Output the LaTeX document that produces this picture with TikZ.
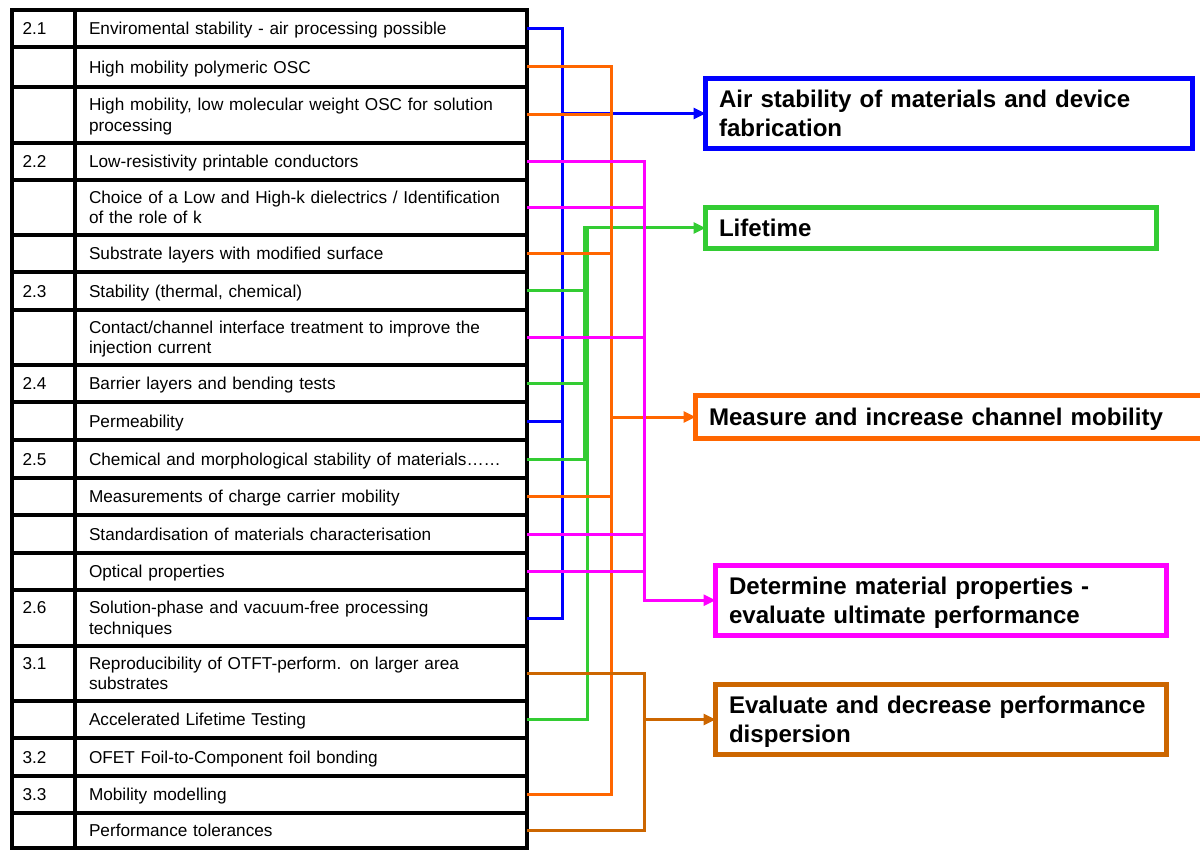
\documentclass[tikz,border=0pt]{standalone}
\usepackage{fontspec}
\setmainfont{Liberation Sans}
\usetikzlibrary{arrows.meta}

\definecolor{lnblue}{HTML}{0000FF}
\definecolor{lnorange}{HTML}{FF6600}
\definecolor{lnmagenta}{HTML}{FF00FF}
\definecolor{lngreen}{HTML}{33CC33}
\definecolor{lnbrown}{HTML}{CC6600}

\newcommand\rowfont{\fontsize{17.2}{20.5}\selectfont}
\newcommand\goalfont{\fontsize{24.1}{29.3}\selectfont\bfseries}
% two lines whose baseline is the first one
\newcommand\twolines[2]{\begin{tabular}[t]{@{}l@{}}#1\\#2\end{tabular}}

\tikzset{
  tabline/.style={line width=4.5pt, draw=black},
  rowcell/.style={rectangle, inner xsep=14pt, inner ysep=0pt, outer sep=0pt,
    minimum width=452pt, text width=424pt, align=left, font=\rowfont,
    text height=12.3pt, text depth=0pt},
  rowcell2/.style={rowcell, text depth=20.5pt},
  numtext/.style={inner sep=0pt, outer sep=0pt, anchor=base west, font=\rowfont},
  goalbox/.style={rectangle, line width=5pt, inner xsep=13.5pt, inner ysep=0pt,
    outer sep=0pt, align=left, font=\goalfont, text height=17.3pt, text depth=0pt},
  goalbox2/.style={goalbox, text depth=29.3pt},
  connector/.style={line width=3pt, line join=miter},
  conarrow/.style={connector, -{Triangle[length=12pt,width=11pt]}},
}

\begin{document}
\begin{tikzpicture}[x=1pt, y=-1pt]
\useasboundingbox (0,0) rectangle (1200,850);
\clip (0,0) rectangle (1200,850);

% ---- table rows (text column) ----
\node[rowcell,  minimum height=37pt] (r1)  at (301,28.5)  {Enviromental stability - air processing possible};
\node[rowcell,  minimum height=40pt] (r2)  at (301,67)    {High mobility polymeric OSC};
\node[rowcell2, minimum height=56pt] (r3)  at (301,115)   {\twolines{High mobility, low molecular weight OSC for solution}{processing}};
\node[rowcell,  minimum height=37pt] (r4)  at (301,161.5) {Low-resistivity printable conductors};
\node[rowcell2, minimum height=55pt] (r5)  at (301,207.5) {\twolines{Choice of a Low and High-k dielectrics / Identification}{of the role of k}};
\node[rowcell,  minimum height=37pt] (r6)  at (301,253.5) {Substrate layers with modified surface};
\node[rowcell,  minimum height=38pt] (r7)  at (301,291)   {Stability (thermal, chemical)};
\node[rowcell2, minimum height=55pt] (r8)  at (301,337.5) {\twolines{Contact/channel interface treatment to improve the}{injection current}};
\node[rowcell,  minimum height=37pt] (r9)  at (301,383.5) {Barrier layers and bending tests};
\node[rowcell,  minimum height=38pt] (r10) at (301,421)   {Permeability};
\node[rowcell,  minimum height=38pt] (r11) at (301,459)   {Chemical and morphological stability of materials……};
\node[rowcell,  minimum height=37pt] (r12) at (301,496.5) {Measurements of charge carrier mobility};
\node[rowcell,  minimum height=38pt] (r13) at (301,534)   {Standardisation of materials characterisation};
\node[rowcell,  minimum height=37pt] (r14) at (301,571.5) {Optical properties};
\node[rowcell2, minimum height=56pt] (r15) at (301,618)   {\twolines{Solution-phase and vacuum-free processing}{techniques}};
\node[rowcell2, minimum height=55pt] (r16) at (301,673.5) {\twolines{Reproducibility of OTFT-perform. on larger area}{substrates}};
\node[rowcell,  minimum height=37pt] (r17) at (301,719.5) {Accelerated Lifetime Testing};
\node[rowcell,  minimum height=38pt] (r18) at (301,757)   {OFET Foil-to-Component foil bonding};
\node[rowcell,  minimum height=37pt] (r19) at (301,794.5) {Mobility modelling};
\node[rowcell,  minimum height=35pt] (r20) at (301,830.5) {Performance tolerances};

% ---- section numbers ----
\coordinate (numx) at (22.5,0);
\node[numtext] (n1)  at (numx |- r1.base)  {2.1};
\node[numtext] (n4)  at (numx |- r4.base)  {2.2};
\node[numtext] (n7)  at (numx |- r7.base)  {2.3};
\node[numtext] (n9)  at (numx |- r9.base)  {2.4};
\node[numtext] (n11) at (numx |- r11.base) {2.5};
\node[numtext] (n15) at (numx |- r15.base) {2.6};
\node[numtext] (n16) at (numx |- r16.base) {3.1};
\node[numtext] (n18) at (numx |- r18.base) {3.2};
\node[numtext] (n19) at (numx |- r19.base) {3.3};

% ---- table grid ----
\coordinate (tabL) at (12,0);
\foreach \i in {1,...,19} \draw[tabline] (tabL |- r\i.south) -- (r\i.south east);
\draw[tabline] (r1.north west) -- (r20.south west);
\draw[tabline] (tabL |- r1.north) rectangle (r20.south east);

% ---- goal boxes ----
\node[goalbox2, draw=lnblue, minimum width=487pt, minimum height=70pt, text width=460pt]
  (airbox) at (949,113.5) {\twolines{Air stability of materials and device}{fabrication}};
\node[goalbox, draw=lngreen, minimum width=451pt, minimum height=41pt, text width=424pt]
  (lifebox) at (931,228) {Lifetime};
\node[goalbox, draw=lnorange, minimum width=519.5pt, minimum height=43pt, text width=492.5pt]
  (mobbox) at (955.25,417) {Measure and increase channel mobility};
\node[goalbox2, draw=lnmagenta, minimum width=451pt, minimum height=70.5pt, text width=424pt]
  (detbox) at (941,600.25) {\twolines{Determine material properties -}{evaluate ultimate performance}};
\node[goalbox2, draw=lnbrown, minimum width=451pt, minimum height=70pt, text width=424pt]
  (evalbox) at (941,719.5) {\twolines{Evaluate and decrease performance}{dispersion}};

% ---- bus lines ----
\coordinate (busB)  at (562,0);
\coordinate (busGa) at (584,0);
\coordinate (busGb) at (587.5,0);
\coordinate (busO)  at (611,0);
\coordinate (busM)  at (644,0);
\coordinate (busR)  at (644,0);

% blue: air stability
\draw[connector, color=lnblue] (r1.east) -| (busB |- r15.east) -- (r15.east);
\draw[connector, color=lnblue] (r10.east) -- (busB |- r10.east);
\draw[conarrow, color=lnblue] (busB |- airbox.west) -- (airbox.west);

% green: lifetime
\draw[conarrow, color=lngreen] (r11.east) -| (busGa |- lifebox.west) -- (lifebox.west);
\draw[connector, color=lngreen] (r17.east) -| (busGb |- lifebox.west);
\draw[connector, color=lngreen] (r7.east) -- (busGa |- r7.east);
\draw[connector, color=lngreen] (r9.east) -- (busGa |- r9.east);

% orange: channel mobility
\draw[connector, color=lnorange] (r2.east) -| (busO |- r19.east) -- (r19.east);
\draw[connector, color=lnorange] (r3.east) -- (busO |- r3.east);
\draw[connector, color=lnorange] (r6.east) -- (busO |- r6.east);
\draw[connector, color=lnorange] (r12.east) -- (busO |- r12.east);
\draw[conarrow, color=lnorange] (busO |- mobbox.west) -- (mobbox.west);

% magenta: material properties
\draw[conarrow, color=lnmagenta] (r4.east) -| (busM |- detbox.west) -- (detbox.west);
\draw[connector, color=lnmagenta] (r5.east) -- (busM |- r5.east);
\draw[connector, color=lnmagenta] (r8.east) -- (busM |- r8.east);
\draw[connector, color=lnmagenta] (r13.east) -- (busM |- r13.east);
\draw[connector, color=lnmagenta] (r14.east) -- (busM |- r14.east);

% brown: performance dispersion
\draw[connector, color=lnbrown] (r16.east) -| (busR |- r20.east) -- (r20.east);
\draw[conarrow, color=lnbrown] (busR |- evalbox.west) -- (evalbox.west);
\end{tikzpicture}
\end{document}
